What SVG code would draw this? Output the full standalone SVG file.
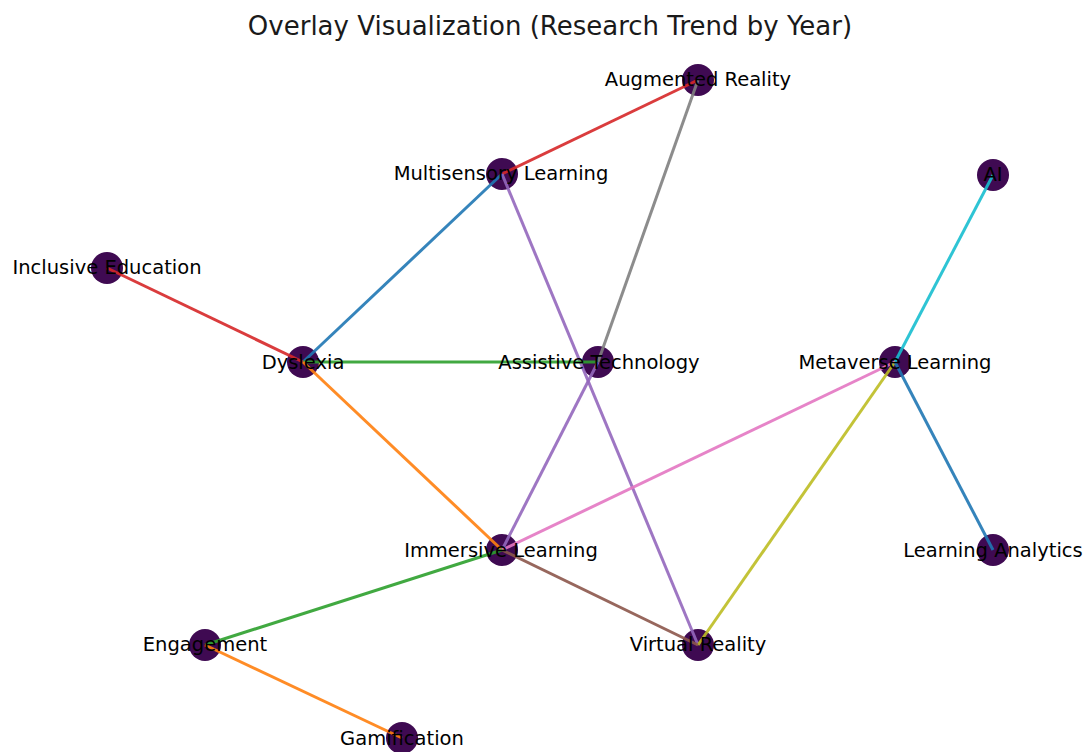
<svg xmlns="http://www.w3.org/2000/svg" width="1088" height="752" viewBox="0 0 1088 752">
  <style>
    .node circle { fill: #3f0a52; }
    .edge { stroke-width: 3; stroke-opacity: 0.9; fill: none; }
    .lbl { font-family: "DejaVu Sans", "Liberation Sans", sans-serif; font-size: 19.5px; fill: #000000; text-anchor: middle; dominant-baseline: central; }
    .title { font-family: "DejaVu Sans", "Liberation Sans", sans-serif; font-size: 26px; fill: #1a1a1a; text-anchor: middle; }
  </style>
  <rect width="1088" height="752" fill="#ffffff"/>
  <text class="title" x="550" y="35">Overlay Visualization (Research Trend by Year)</text>

  <!-- node markers -->
  <g id="nodes">
    <g id="n-augmented-reality" class="node"><circle cx="698" cy="80" r="16"/></g>
    <g id="n-multisensory-learning" class="node"><circle cx="502" cy="174" r="16"/></g>
    <g id="n-ai" class="node"><circle cx="993" cy="175" r="16"/></g>
    <g id="n-inclusive-education" class="node"><circle cx="107" cy="268" r="16"/></g>
    <g id="n-dyslexia" class="node"><circle cx="303" cy="362" r="16"/></g>
    <g id="n-assistive-technology" class="node"><circle cx="598" cy="362" r="16"/></g>
    <g id="n-metaverse-learning" class="node"><circle cx="895" cy="362" r="16"/></g>
    <g id="n-immersive-learning" class="node"><circle cx="502" cy="550" r="16"/></g>
    <g id="n-learning-analytics" class="node"><circle cx="993" cy="550" r="16"/></g>
    <g id="n-engagement" class="node"><circle cx="205" cy="645" r="16"/></g>
    <g id="n-virtual-reality" class="node"><circle cx="698" cy="645" r="16"/></g>
    <g id="n-gamification" class="node"><circle cx="402" cy="738" r="16"/></g>
  </g>

  <!-- connectors -->
  <g id="edges">
    <line class="edge" x1="502" y1="174" x2="698" y2="80" stroke="#d62728"/>
    <line class="edge" x1="698" y1="80" x2="598" y2="362" stroke="#7f7f7f"/>
    <line class="edge" x1="502" y1="174" x2="303" y2="362" stroke="#1f77b4"/>
    <line class="edge" x1="502" y1="174" x2="698" y2="645" stroke="#9467bd"/>
    <line class="edge" x1="107" y1="268" x2="303" y2="362" stroke="#d62728"/>
    <line class="edge" x1="303" y1="362" x2="598" y2="362" stroke="#2ca02c"/>
    <line class="edge" x1="303" y1="362" x2="502" y2="550" stroke="#ff7f0e"/>
    <line class="edge" x1="598" y1="362" x2="502" y2="550" stroke="#9467bd"/>
    <line class="edge" x1="895" y1="362" x2="993" y2="175" stroke="#17becf"/>
    <line class="edge" x1="895" y1="362" x2="502" y2="550" stroke="#e377c2"/>
    <line class="edge" x1="895" y1="362" x2="698" y2="645" stroke="#bcbd22"/>
    <line class="edge" x1="895" y1="362" x2="993" y2="550" stroke="#1f77b4"/>
    <line class="edge" x1="502" y1="550" x2="205" y2="645" stroke="#2ca02c"/>
    <line class="edge" x1="502" y1="550" x2="698" y2="645" stroke="#8c564b"/>
    <line class="edge" x1="205" y1="645" x2="402" y2="738" stroke="#ff7f0e"/>
  </g>

  <!-- labels -->
  <g id="labels">
    <text class="lbl" x="698" y="79">Augmented Reality</text>
    <text class="lbl" x="501" y="173">Multisensory Learning</text>
    <text class="lbl" x="993" y="174">AI</text>
    <text class="lbl" x="107" y="267">Inclusive Education</text>
    <text class="lbl" x="303" y="362">Dyslexia</text>
    <text class="lbl" x="599" y="362">Assistive Technology</text>
    <text class="lbl" x="895" y="362">Metaverse Learning</text>
    <text class="lbl" x="501" y="550">Immersive Learning</text>
    <text class="lbl" x="993" y="550">Learning Analytics</text>
    <text class="lbl" x="205" y="644">Engagement</text>
    <text class="lbl" x="698" y="644">Virtual Reality</text>
    <text class="lbl" x="402" y="738">Gamification</text>
  </g>
</svg>
